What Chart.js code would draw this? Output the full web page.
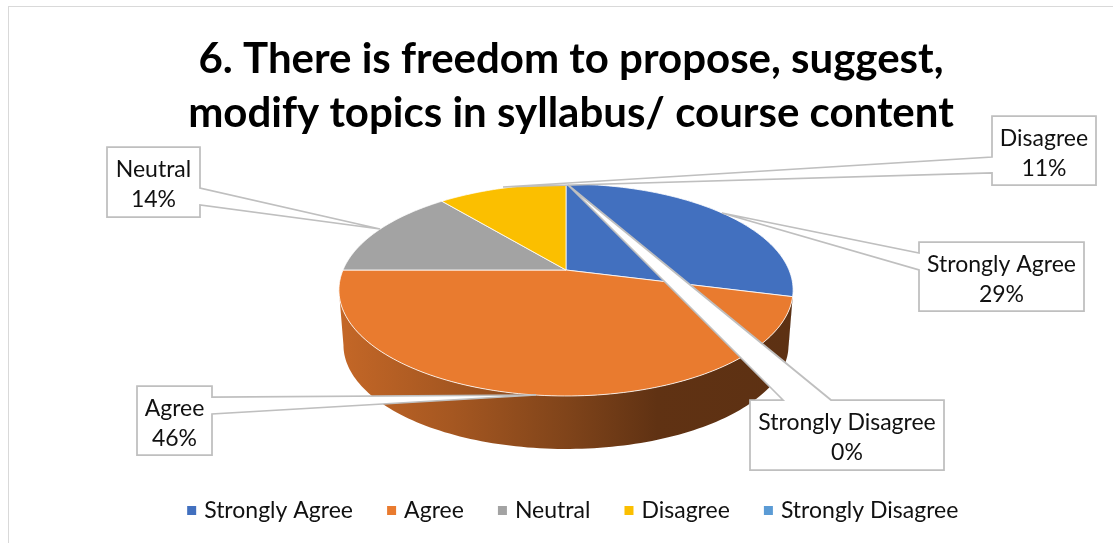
<!DOCTYPE html>
<html>
<head>
    <title>Freedom to modify syllabus</title>
    <script src="https://cdn.jsdelivr.net/npm/chart.js"></script>
    <style>
        html, body { margin: 0; padding: 0; background: #fff; overflow: hidden; }
        canvas { display: block; }
    </style>
</head>
<body>
    <canvas id="pieChart" width="1113" height="543"></canvas>

    <script>
        const titleLines = ['6. There is freedom to propose, suggest,', 'modify topics in syllabus/ course content'];
        const categories = ['Strongly Agree', 'Agree', 'Neutral', 'Disagree', 'Strongly Disagree'];
        const percentages = [29, 46, 14, 11, 0];
        const sliceColors = ['#4270BF', '#E97B2F', '#A3A3A3', '#FBBF00', '#5B9BD5'];

        // Perspective disc: apex of the slices sits above the visual centre of the ellipse
        const disc = { cx: 566, cy: 270, a: 223, b: 102.2, k: 0.1887, wallDrop: 55.5, wallScale: 0.98 };

        // Callout boxes with the two wedge roots and the tip of each leader
        const callouts = [
            { box: [919, 242, 1084, 311], side: 'left', roots: [253, 270], tip: [722, 213] },
            { box: [137, 386, 212, 455], side: 'right', roots: [397, 414], tip: [536, 395] },
            { box: [107, 147, 200, 217], side: 'right', roots: [188, 205], tip: [380, 229] },
            { box: [992, 116, 1096, 185], side: 'left', roots: [157, 173], tip: [503, 187] },
            { box: [750, 400, 944, 470], side: 'top', roots: [783, 831], tip: [568, 185] }
        ];

        function project(theta, drop, scale) {
            const u = Math.sin(theta), v = -Math.cos(theta);
            const w = 1 - disc.k * v;
            return [
                disc.cx + disc.a * scale * u / w,
                disc.cy + drop + disc.b * scale * v / w
            ];
        }

        function shade(hex, f) {
            const n = parseInt(hex.slice(1), 16);
            return 'rgb(' + Math.round((n >> 16) * f) + ',' + Math.round(((n >> 8) & 255) * f) + ',' + Math.round((n & 255) * f) + ')';
        }

        function drawWall(ctx, arc, color) {
            // Only the part of the rim between the two silhouette points faces the viewer
            const edge = Math.acos(-disc.k);
            const start = Math.max(arc.startAngle + Math.PI / 2, edge);
            const end = Math.min(arc.endAngle + Math.PI / 2, Math.PI * 2 - edge);
            if (end <= start) return;
            const grad = ctx.createLinearGradient(disc.cx - 227, 0, disc.cx + 227, 0);
            grad.addColorStop(0, shade(color, 0.84));
            grad.addColorStop(0.25, shade(color, 0.71));
            grad.addColorStop(0.5, shade(color, 0.55));
            grad.addColorStop(0.7, shade(color, 0.41));
            grad.addColorStop(1, shade(color, 0.4));
            ctx.beginPath();
            const steps = 120;
            for (let i = 0; i <= steps; i++) {
                const p = project(start + (end - start) * i / steps, 0, 1);
                ctx.lineTo(p[0], p[1]);
            }
            for (let i = steps; i >= 0; i--) {
                const p = project(start + (end - start) * i / steps, disc.wallDrop, disc.wallScale);
                ctx.lineTo(p[0], p[1]);
            }
            ctx.closePath();
            ctx.fillStyle = grad;
            ctx.fill();
        }

        function drawTop(ctx, arc, color) {
            const start = arc.startAngle + Math.PI / 2;
            const end = arc.endAngle + Math.PI / 2;
            if (end <= start) return;
            ctx.beginPath();
            ctx.moveTo(disc.cx, disc.cy);
            const steps = 120;
            for (let i = 0; i <= steps; i++) {
                const p = project(start + (end - start) * i / steps, 0, 1);
                ctx.lineTo(p[0], p[1]);
            }
            ctx.closePath();
            ctx.fillStyle = color;
            ctx.fill();
            ctx.strokeStyle = 'rgba(255,255,255,0.8)';
            ctx.lineWidth = 1;
            ctx.stroke();
        }

        function drawCallout(ctx, c, index) {
            const [x1, y1, x2, y2] = c.box;
            ctx.beginPath();
            ctx.moveTo(x1, y1);
            if (c.side === 'top') {
                ctx.lineTo(c.roots[0], y1);
                ctx.lineTo(c.tip[0], c.tip[1]);
                ctx.lineTo(c.roots[1], y1);
            }
            ctx.lineTo(x2, y1);
            if (c.side === 'right') {
                ctx.lineTo(x2, c.roots[0]);
                ctx.lineTo(c.tip[0], c.tip[1]);
                ctx.lineTo(x2, c.roots[1]);
            }
            ctx.lineTo(x2, y2);
            ctx.lineTo(x1, y2);
            if (c.side === 'left') {
                ctx.lineTo(x1, c.roots[1]);
                ctx.lineTo(c.tip[0], c.tip[1]);
                ctx.lineTo(x1, c.roots[0]);
            }
            ctx.closePath();
            ctx.fillStyle = '#fff';
            ctx.fill();
            ctx.strokeStyle = '#BFBFBF';
            ctx.lineWidth = 1.75;
            ctx.stroke();

            const mid = (x1 + x2) / 2;
            ctx.fillStyle = '#111';
            ctx.font = '23px Lato';
            ctx.textAlign = 'center';
            ctx.textBaseline = 'middle';
            ctx.fillText(categories[index], mid, y1 + 22.5);
            ctx.fillText(percentages[index] + '%', mid, y1 + 52.5);
        }

        const frameAndDisc = {
            id: 'frameAndDisc',
            // Nudge the legend row so the text clears the narrow marker slot
            afterLayout(chart) {
                chart.legend.left += 3.5;
                chart.legend.right += 3.5;
            },
            beforeDraw(chart) {
                const ctx = chart.ctx;
                ctx.save();
                ctx.strokeStyle = '#D9D9D9';
                ctx.lineWidth = 1;
                ctx.strokeRect(8.5, 6.5, 1200, 600);
                ctx.restore();
            },
            // The arcs keep the angles Chart.js works out, only the drawing is projected
            beforeDatasetDraw(chart, args) {
                const ctx = chart.ctx;
                const arcs = args.meta.data;
                ctx.save();
                arcs.forEach((arc, i) => drawWall(ctx, arc, sliceColors[i]));
                arcs.forEach((arc, i) => drawTop(ctx, arc, sliceColors[i]));
                ctx.restore();
                return false;
            },
            afterDatasetsDraw(chart) {
                const ctx = chart.ctx;
                ctx.save();
                callouts.forEach((c, i) => drawCallout(ctx, c, i));
                ctx.restore();
            }
        };

        new Chart(document.getElementById('pieChart'), {
            type: 'pie',
            data: {
                labels: categories,
                datasets: [{
                    data: percentages,
                    backgroundColor: sliceColors,
                    borderWidth: 0
                }]
            },
            options: {
                responsive: false,
                animation: false,
                layout: { padding: { left: 29, top: 32, bottom: 11 } },
                plugins: {
                    title: {
                        display: true,
                        text: titleLines,
                        color: '#000',
                        font: { family: 'Lato', size: 42, weight: 'bold', lineHeight: 1.286 },
                        padding: 0
                    },
                    legend: {
                        position: 'bottom',
                        labels: {
                            usePointStyle: true,
                            pointStyle: 'rect',
                            boxWidth: 2,
                            boxHeight: 9,
                            padding: 37.6,
                            color: '#111',
                            font: { family: 'Lato', size: 23 }
                        }
                    },
                    tooltip: { enabled: false }
                }
            },
            plugins: [frameAndDisc]
        });
    </script>
</body>
</html>
